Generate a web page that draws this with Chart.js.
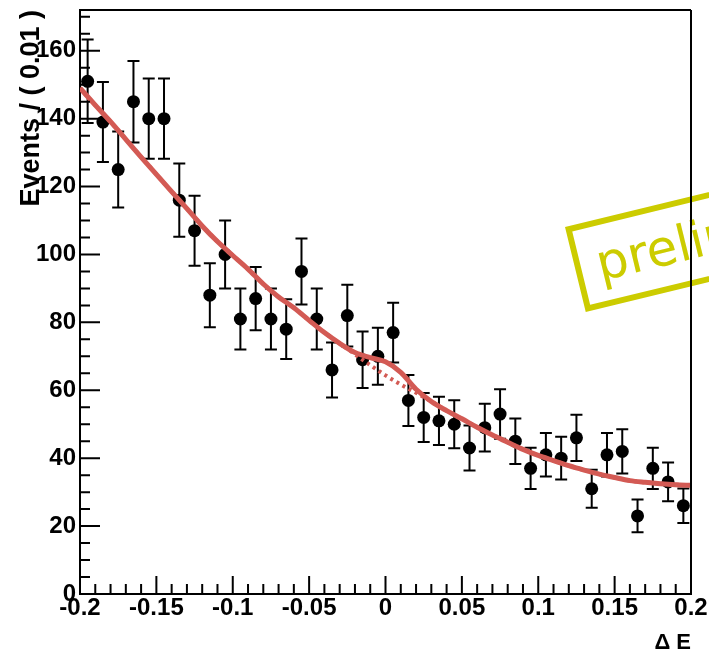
<!DOCTYPE html>
<html lang="en">
<head>
<meta charset="UTF-8">
<title>Delta E fit</title>
<script src="https://cdn.jsdelivr.net/npm/chart.js@4.4.0/dist/chart.umd.min.js"></script>
<style>
    html, body { margin: 0; padding: 0; background: #fff; }
    .chart-box { width: 709px; height: 655px; }
</style>
</head>
<body>
<div class="chart-box"><canvas id="deChart" width="709" height="655"></canvas></div>
<script>
    // histogram: bin centres (0.01 wide), counts and their errors
    const binCenters = [-0.195, -0.185, -0.175, -0.165, -0.155, -0.145, -0.135, -0.125, -0.115, -0.105,
                        -0.095, -0.085, -0.075, -0.065, -0.055, -0.045, -0.035, -0.025, -0.015, -0.005,
                         0.005,  0.015,  0.025,  0.035,  0.045,  0.055,  0.065,  0.075,  0.085,  0.095,
                         0.105,  0.115,  0.125,  0.135,  0.145,  0.155,  0.165,  0.175,  0.185,  0.195];
    const counts = [151, 139, 125, 145, 140, 140, 116, 107, 88, 100,
                    81, 87, 81, 78, 95, 81, 66, 82, 69, 70,
                    77, 57, 52, 51, 50, 43, 49, 53, 45, 37,
                    41, 40, 46, 31, 41, 42, 23, 37, 33, 26];
    const countErr = [12.3, 11.8, 11.2, 12.0, 11.8, 11.8, 10.8, 10.3, 9.4, 10.0,
                      9.0, 9.3, 9.0, 8.8, 9.7, 9.0, 8.1, 9.1, 8.3, 8.4,
                      8.8, 7.5, 7.2, 7.1, 7.1, 6.6, 7.0, 7.3, 6.7, 6.1,
                      6.4, 6.3, 6.8, 5.6, 6.4, 6.5, 4.8, 6.1, 5.7, 5.1];

    // fit result sampled every 0.01
    const fitX = [-0.2, -0.19, -0.18, -0.17, -0.16, -0.15, -0.14, -0.13, -0.12, -0.11,
                  -0.1, -0.09, -0.08, -0.07, -0.06, -0.05, -0.04, -0.03, -0.02, -0.01,
                   0,    0.01,  0.02,  0.03,  0.04,  0.05,  0.06,  0.07,  0.08,  0.09,
                   0.1,  0.11,  0.12,  0.13,  0.14,  0.15,  0.16,  0.17,  0.18,  0.19, 0.2];
    const fitTotal = [149, 144, 139.1, 133.9, 128.7, 123.6, 118.5, 113.5, 108.4, 103.8,
                      99.7, 95.7, 91.3, 87.5, 84.3, 80.6, 77, 73.8, 71.1, 69.6,
                      68.4, 65.3, 60.3, 56.7, 54, 51.6, 49.1, 46.8, 44.7, 42.6,
                      40.8, 39.3, 37.8, 36.5, 35.3, 34.3, 33.4, 32.9, 32.5, 32.2, 32];
    const fitBackground = [149, 144, 139.1, 133.9, 128.7, 123.6, 118.5, 113.5, 108.4, 103.8,
                           99.7, 95.7, 91.3, 87.5, 84.3, 80.6, 77, 73.8, 70.6, 67.4,
                           64.4, 61.7, 59.3, 56.7, 54, 51.6, 49.1, 46.8, 44.7, 42.6,
                           40.8, 39.3, 37.8, 36.5, 35.3, 34.3, 33.4, 32.9, 32.5, 32.2, 32];

    const yTicks = [0, 20, 40, 60, 80, 100, 120, 140, 160];
    const xTicks = [-0.2, -0.15, -0.1, -0.05, 0, 0.05, 0.1, 0.15, 0.2];
    const xTickLabels = ['-0.2', '-0.15', '-0.1', '-0.05', '0', '0.05', '0.1', '0.15', '0.2'];

    const fitColor = '#d35a54';
    const stampColor = '#cccc00';
    const labelFont = '"Liberation Sans", Arial, Helvetica, sans-serif';

    // ROOT-like decorations: error bars, inward ticks, frame, stamp
    const rootFrame = {
        id: 'rootFrame',
        beforeDatasetsDraw(chart) {
            const {ctx, scales: {x, y}} = chart;
            ctx.save();
            ctx.strokeStyle = '#000';
            ctx.lineWidth = 2;
            const cap = 6;
            binCenters.forEach((c, i) => {
                const px = x.getPixelForValue(c);
                const top = y.getPixelForValue(counts[i] + countErr[i]);
                const bot = y.getPixelForValue(counts[i] - countErr[i]);
                ctx.beginPath();
                ctx.moveTo(px, top); ctx.lineTo(px, bot);
                ctx.moveTo(px - cap, top); ctx.lineTo(px + cap, top);
                ctx.moveTo(px - cap, bot); ctx.lineTo(px + cap, bot);
                ctx.stroke();
            });
            ctx.restore();
        },
        afterDatasetsDraw(chart) {
            const {ctx, chartArea: a, scales: {x, y}} = chart;

            // "preliminary" stamp, runs off the right edge
            ctx.save();
            ctx.translate(565, 227);
            ctx.rotate(-13.7 * Math.PI / 180);
            ctx.strokeStyle = stampColor;
            ctx.fillStyle = stampColor;
            ctx.lineWidth = 6;
            ctx.strokeRect(3, 3, 330, 81.6);
            ctx.font = '50px "DejaVu Sans", Verdana, sans-serif';
            ctx.textBaseline = 'alphabetic';
            ctx.fillText('preliminary', 22, 61);
            ctx.restore();

            ctx.save();
            ctx.strokeStyle = '#000';
            ctx.lineWidth = 2;
            ctx.beginPath();
            // top and right frame
            ctx.moveTo(a.left, a.top); ctx.lineTo(a.right, a.top);
            ctx.moveTo(a.right, a.top); ctx.lineTo(a.right, a.bottom);
            // y ticks: major every 20, minor every 5
            for (let v = 0; v <= y.max; v += 5) {
                const py = y.getPixelForValue(v);
                const len = v % 20 === 0 ? 20 : 10;
                ctx.moveTo(a.left, py); ctx.lineTo(a.left + len, py);
            }
            // x ticks: major every 0.05, minor every 0.01
            for (let k = -20; k <= 20; k++) {
                const px = x.getPixelForValue(k / 100);
                const len = k % 5 === 0 ? 18 : 10;
                ctx.moveTo(px, a.bottom); ctx.lineTo(px, a.bottom - len);
            }
            ctx.stroke();
            ctx.restore();
        }
    };

    const ctx = document.getElementById('deChart').getContext('2d');
    new Chart(ctx, {
        type: 'scatter',
        data: {
            datasets: [
                {
                    type: 'line',
                    label: 'fit',
                    data: fitX.map((v, i) => ({x: v, y: fitTotal[i]})),
                    borderColor: fitColor,
                    borderWidth: 5,
                    pointRadius: 0,
                    cubicInterpolationMode: 'monotone',
                    order: 0
                },
                {
                    type: 'line',
                    label: 'background',
                    data: fitX.map((v, i) => ({x: v, y: fitBackground[i]})),
                    borderColor: fitColor,
                    borderWidth: 4,
                    borderDash: [3, 4],
                    pointRadius: 0,
                    cubicInterpolationMode: 'monotone',
                    order: 1
                },
                {
                    label: 'data',
                    data: binCenters.map((v, i) => ({x: v, y: counts[i]})),
                    backgroundColor: '#000',
                    borderWidth: 0,
                    pointRadius: 6.5,
                    order: 2
                }
            ]
        },
        options: {
            responsive: false,
            devicePixelRatio: 1,
            animation: false,
            layout: {padding: {top: 10, right: 18, left: 0, bottom: 0}},
            plugins: {
                legend: {display: false},
                tooltip: {enabled: false}
            },
            scales: {
                x: {
                    type: 'linear',
                    min: -0.2,
                    max: 0.2,
                    afterBuildTicks: s => { s.ticks = xTicks.map(v => ({value: v})); },
                    afterFit: s => { s.height = 61; s.paddingLeft = 0; s.paddingRight = 0; },
                    grid: {display: false, drawTicks: false},
                    border: {display: true, color: '#000', width: 2},
                    ticks: {
                        autoSkip: false,
                        maxRotation: 0,
                        padding: 0,
                        color: '#000',
                        font: {family: labelFont, size: 24, weight: 'bold'},
                        callback: (v, i) => xTickLabels[i]
                    },
                    title: {
                        display: true,
                        text: 'Δ E',
                        align: 'end',
                        color: '#000',
                        padding: {top: 0, bottom: -1},
                        font: {family: labelFont, size: 22, weight: 'bold'}
                    }
                },
                y: {
                    min: 0,
                    max: 172,
                    afterBuildTicks: s => { s.ticks = yTicks.map(v => ({value: v})); },
                    afterFit: s => { s.width = 80; s.paddingTop = 0; s.paddingBottom = 0; },
                    grid: {display: false, drawTicks: false},
                    border: {display: true, color: '#000', width: 2},
                    ticks: {
                        padding: 4,
                        color: '#000',
                        font: {family: labelFont, size: 24, weight: 'bold'}
                    },
                    title: {
                        display: true,
                        text: 'Events / ( 0.01 )',
                        align: 'end',
                        color: '#000',
                        padding: {top: 15, bottom: 0},
                        font: {family: labelFont, size: 27, weight: 'bold'}
                    }
                }
            }
        },
        plugins: [rootFrame]
    });
</script>
</body>
</html>
